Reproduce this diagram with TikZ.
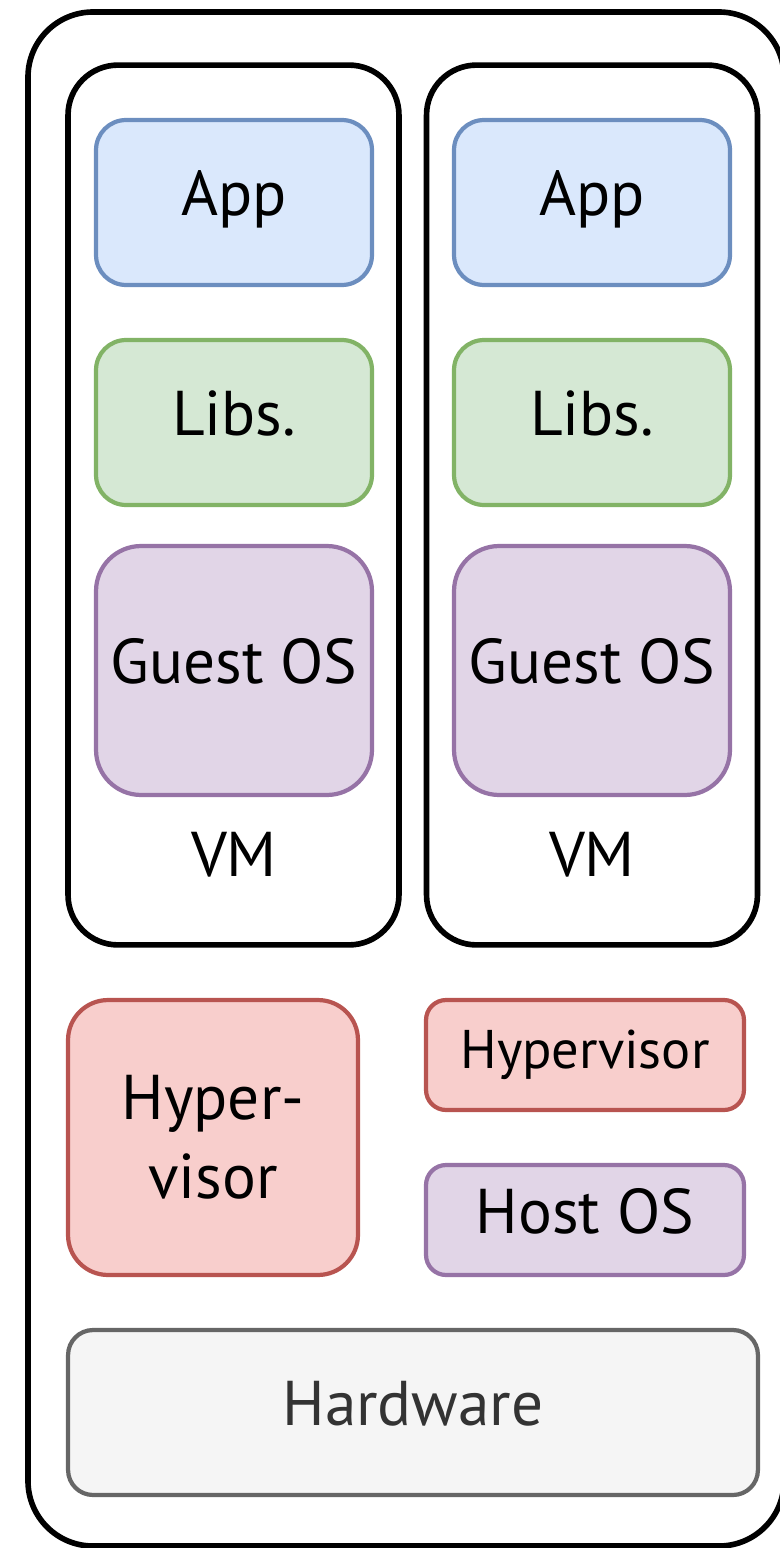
\documentclass[tikz,border=0pt]{standalone}
\usepackage{fontspec}
\setmainfont{PT Sans}
\usepackage{tikz}
\usepackage{xcolor}
\definecolor{appline}{HTML}{6C8EBF}
\definecolor{appfill}{HTML}{DAE8FC}
\definecolor{libline}{HTML}{82B366}
\definecolor{libfill}{HTML}{D5E8D4}
\definecolor{osline}{HTML}{9673A6}
\definecolor{osfill}{HTML}{E1D5E7}
\definecolor{hypline}{HTML}{B85450}
\definecolor{hypfill}{HTML}{F8CECC}
\definecolor{hwline}{HTML}{666666}
\definecolor{hwfill}{HTML}{F5F5F5}
\definecolor{hwtext}{HTML}{333333}
\tikzset{
  layer/.style={draw, line width=2.4pt, align=center, inner sep=0pt,
    font=\fontsize{36}{45}\selectfont},
  oneline/.style={layer, text height=25pt, text depth=10pt},
  appbox/.style={oneline, draw=appline, fill=appfill, rounded corners=0.6cm,
    minimum width=5.52cm, minimum height=3.3cm},
  libbox/.style={oneline, draw=libline, fill=libfill, rounded corners=0.6cm,
    minimum width=5.52cm, minimum height=3.3cm},
  guestbox/.style={oneline, draw=osline, fill=osfill, rounded corners=0.9cm,
    minimum width=5.52cm, minimum height=4.98cm},
  vmbox/.style={draw, line width=3.2pt, rounded corners=1cm,
    minimum width=6.62cm, minimum height=17.6cm},
}
\begin{document}
\begin{tikzpicture}[x=0.02cm,y=-0.02cm]
\useasboundingbox (0,0) rectangle (780,1548);
% host machine
\draw [line width=3.2pt, rounded corners=1.3cm] (28,12) rectangle (784,1546);

% the two virtual machines
\node [vmbox] (vm1) at (233.5,505) {};
\node [vmbox] (vm2) at (592,505) {};
\node [appbox] (app1) at (234,202.5) {App};
\node [appbox] (app2) at (592,202.5) {App};
\node [libbox] (libs1) at (234,422.5) {Libs.};
\node [libbox] (libs2) at (592,422.5) {Libs.};
\node [guestbox] (guest1) at (234,670.5) {Guest OS};
\node [guestbox] (guest2) at (592,670.5) {Guest OS};
\node [font=\fontsize{36}{45}\selectfont] (vmlabel1) at (234,855) {VM};
\node [font=\fontsize{36}{45}\selectfont] (vmlabel2) at (592,855) {VM};

% type 1 vs type 2
\node [layer, draw=hypline, fill=hypfill, rounded corners=0.8cm,
  minimum width=5.8cm, minimum height=5.5cm] (hyp1) at (213,1137.5) {Hyper-\\visor};
\node [oneline, draw=hypline, fill=hypfill, rounded corners=0.4cm,
  minimum width=6.36cm, minimum height=2.2cm,
  font=\fontsize{31}{36}\selectfont] (hyp2) at (585,1055) {Hypervisor};
\node [oneline, draw=osline, fill=osfill, rounded corners=0.4cm,
  minimum width=6.36cm, minimum height=2.2cm] (host) at (585,1220) {Host OS};

% hardware
\node [oneline, draw=hwline, fill=hwfill, text=hwtext, rounded corners=0.5cm,
  minimum width=13.8cm, minimum height=3.3cm] (hw) at (413,1412.5) {Hardware};
\end{tikzpicture}
\end{document}
